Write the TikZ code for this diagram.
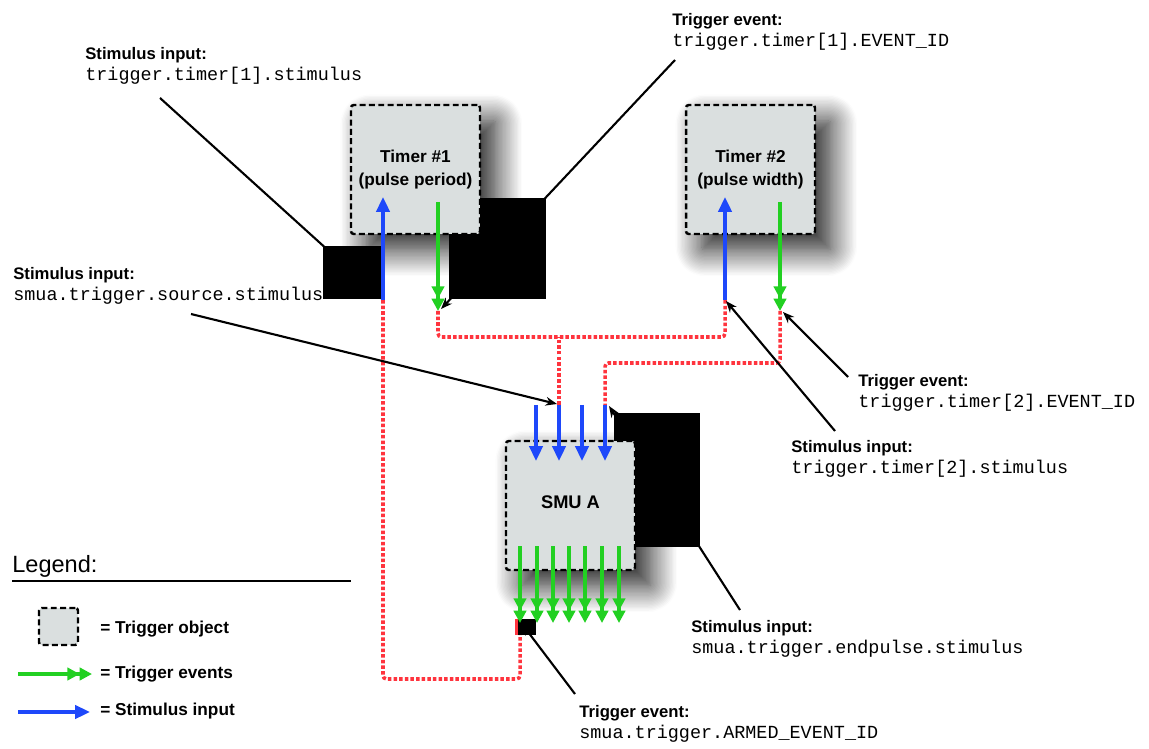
\documentclass[tikz,border=0pt]{standalone}
\usepackage{fontspec}
\setmainfont{Liberation Sans}
\setmonofont{Liberation Mono}
\usetikzlibrary{arrows.meta,shadows.blur}
\definecolor{objgrey}{RGB}{218,223,223}
\definecolor{evtgreen}{RGB}{34,208,34}
\definecolor{stimblue}{RGB}{30,72,250}
\definecolor{linkred}{RGB}{255,52,62}
\newcommand{\calltext}[2]{\textbf{#1}\\{\ttfamily\fontsize{10.5pt}{12pt}\selectfont #2}}
\begin{document}
\begin{tikzpicture}[x=0.02cm, y=-0.02cm,
  objbox/.style={draw=black, line width=1.4pt, dash pattern=on 3.4pt off 1.9pt,
    fill=objgrey, rounded corners=1.5pt, align=center},
  trigobj/.style={objbox, minimum width=2.58cm, minimum height=2.58cm,
    font=\fontsize{9.8pt}{13pt}\selectfont\bfseries,
    blur shadow={shadow xshift=9pt, shadow yshift=-9pt, shadow blur radius=15pt,
      shadow blur steps=20, shadow opacity=90}},
  stim/.style={draw=stimblue, line width=2.1pt, -{Triangle[length=8.5pt,width=7.5pt]}},
  evt/.style={draw=evtgreen, line width=2.1pt, -{Triangle[length=7pt,width=7pt]Triangle[length=7pt,width=7pt]}},
  link/.style={draw=linkred, line width=2pt, dash pattern=on 2pt off 1.2pt, rounded corners=2pt},
  callout/.style={draw=black, line width=1.2pt, -{Stealth[length=6.5pt,width=5pt]}},
  hidden/.style={fill=black},
  lbl/.style={anchor=north west, inner sep=0pt, align=left, font=\fontsize{9.5pt}{12pt}\selectfont},
  keytext/.style={anchor=west, inner sep=0pt, font=\fontsize{9.8pt}{12pt}\selectfont\bfseries}]
  \useasboundingbox (0,0) rectangle (1149,749);
  % arrow ends
  \coordinate (t1in) at (383,300);
  \coordinate (t1evt) at (438,311);
  \coordinate (t2in) at (725,300);
  \coordinate (t2evt) at (780,311);
  \coordinate (smuIn2) at (559,405);
  \coordinate (smuIn4) at (605,405);
  \coordinate (smuOut1) at (520,623);
  % links
  \draw[link] (t1evt) -- ++(0,26) -| (t2in);
  \draw[link] (smuIn2) -- ++(0,-68);
  \draw[link] (t2evt) -- ++(0,52) -| (smuIn4);
  \draw[link] (t1in) -- ++(0,379) -| (smuOut1);
  % callouts
  \coordinate (cA) at (160,98);
  \coordinate (cB) at (675,60);
  \coordinate (cC) at (191,314);
  \coordinate (cD) at (848,377);
  \coordinate (cE) at (835,431);
  \coordinate (cF) at (740,610);
  \coordinate (cG) at (575,694);
  \draw[callout] (cA) -- (t1in);
  \draw[callout] (cB) -- (441,309);
  \draw[callout] (cC) -- (557,404);
  \draw[callout] (cD) -- (783,312);
  \draw[callout] (cE) -- (726,301);
  \draw[callout] (cF) -- (609,406);
  \draw[callout] (cG) -- (522,624);
  % black patches
  \fill[hidden] (323,246) rectangle (382,299);
  \fill[hidden] (449,198) rectangle (546,299);
  \fill[hidden] (614,413) rectangle (700,547);
  \fill[hidden] (517,619) rectangle (536,635);
  \draw[linkred, line width=1.7pt] (516,619) -- (516,635);
  % timers
  \node[trigobj] (timerA) at (415.5,169.5) {Timer \#1\\(pulse period)};
  \node[trigobj] (timerB) at (750.5,169.5) {Timer \#2\\(pulse width)};
  \draw[stim] (t1in) -- (383,197);
  \draw[evt] (438,202) -- (t1evt);
  \draw[stim] (t2in) -- (725,197);
  \draw[evt] (780,202) -- (t2evt);
  % smu
  \node[trigobj, font=\fontsize{10.4pt}{13pt}\selectfont\bfseries] (smuA) at (570.5,505.5) {\raisebox{3.4pt}{SMU A}};
  \foreach \x in {536,559,582,605}
    \draw[stim] (\x,405) -- (\x,461);
  \foreach \x in {520,537,553,569,585,602,619}
    \draw[evt] (\x,546) -- (\x,623);
  % labels
  \node[lbl] (stimT1) at (85,47) {\calltext{Stimulus input:}{trigger.timer[1].stimulus}};
  \node[lbl] (evtT1) at (672,13) {\calltext{Trigger event:}{trigger.timer[1].EVENT\_ID}};
  \node[lbl] (stimSrc) at (13,267) {\calltext{Stimulus input:}{smua.trigger.source.stimulus}};
  \node[lbl] (evtT2) at (858,374) {\calltext{Trigger event:}{trigger.timer[2].EVENT\_ID}};
  \node[lbl] (stimT2) at (791,440) {\calltext{Stimulus input:}{trigger.timer[2].stimulus}};
  \node[lbl] (stimEnd) at (691,620) {\calltext{Stimulus input:}{smua.trigger.endpulse.stimulus}};
  \node[lbl] (evtArm) at (579,705) {\calltext{Trigger event:}{smua.trigger.ARMED\_EVENT\_ID}};
  % legend
  \node[anchor=base west, inner sep=0pt, font=\fontsize{13.4pt}{16pt}\selectfont] (legTitle) at (12,572) {Legend:};
  \draw[line width=1.7pt] (12,581) -- (351,581);
  \node[objbox, minimum width=0.78cm, minimum height=0.74cm] (legObj) at (58.5,626.5) {};
  \node[keytext] (legObjTxt) at (100,629) {= Trigger object};
  \coordinate (legEvtA) at (18,674);
  \coordinate (legEvtB) at (92,674);
  \draw[evt] (legEvtA) -- (legEvtB);
  \node[keytext] (legEvtTxt) at (100,674) {= Trigger events};
  \coordinate (legStimA) at (18,712);
  \coordinate (legStimB) at (90,712);
  \draw[stim] (legStimA) -- (legStimB);
  \node[keytext] (legStimTxt) at (100,711) {= Stimulus input};
\end{tikzpicture}
\end{document}
